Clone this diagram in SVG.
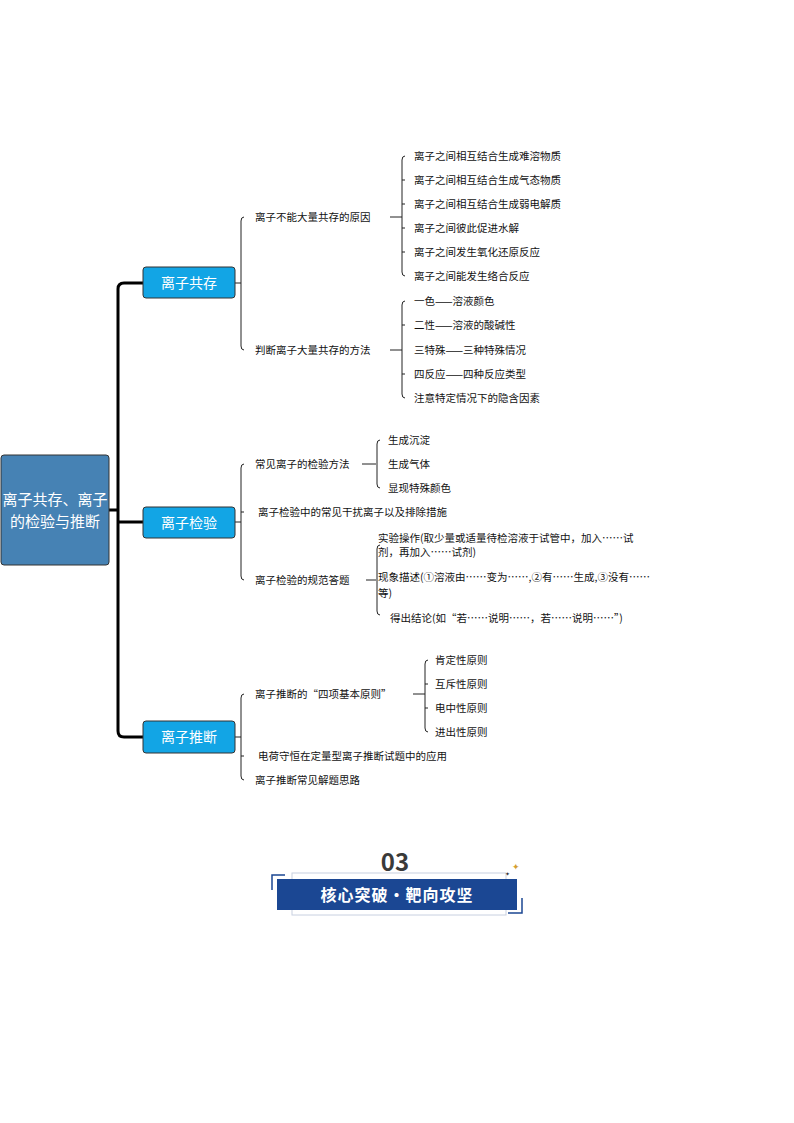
<svg xmlns="http://www.w3.org/2000/svg" width="794" height="1123" viewBox="0 0 794 1123">
<style>
text{font-family:"Noto Sans CJK SC","Liberation Sans",sans-serif;fill:#111}
.t{font-size:10.5px}
.b{font-size:14px;fill:#fff;text-anchor:middle}
.br{fill:#12a5e5;stroke:#333;stroke-width:1}
.c{fill:none;stroke:#222;stroke-width:1}
.k{fill:none;stroke:#000;stroke-width:3}
</style>
<rect width="794" height="1123" fill="#fff"/>
<g id="connectors">
<path class="k" d="M109 510H118M143 283H124Q118 283 118 289V731Q118 737 124 737H143M118 522H143"/>
<path class="c" d="M235 283H241M244 217Q241 217 241 221V346Q241 350 244 350"/>
<path class="c" d="M390 217H402M405 156Q402 156 402 160V272Q402 276 405 276M402 180h3M402 204h3M402 228h3M402 252h3"/>
<path class="c" d="M390 350H402M405 301Q402 301 402 305V394Q402 398 405 398M402 325h3M402 374h3"/>
<path class="c" d="M235 522H241M244 464Q241 464 241 468V576Q241 580 244 580M241 512h3"/>
<path class="c" d="M362 464H376M380 440Q377 440 377 444V484Q377 488 380 488"/>
<path class="c" d="M366 580H376M380 545Q377 545 377 549V611Q377 615 380 615"/>
<path class="c" d="M235 737H241M244 694Q241 694 241 698V776Q241 780 244 780M241 756h3"/>
<path class="c" d="M413 694H425M428 660Q425 660 425 664V728Q425 732 428 732M425 684h3M425 708h3"/>
</g>
<g id="root"><rect x="1" y="455" width="108" height="110" rx="3" fill="#4682b4" stroke="#333"/>
<text class="b" x="55" y="505" style="font-size:15px">离子共存、离子</text><text class="b" x="55" y="527" style="font-size:15px">的检验与推断</text></g>
<g id="n1"><rect class="br" x="143" y="267" width="92" height="31" rx="3"/><text class="b" x="189" y="288">离子共存</text></g>
<g id="n2"><rect class="br" x="143" y="507" width="92" height="31" rx="3"/><text class="b" x="189" y="528">离子检验</text></g>
<g id="n3"><rect class="br" x="143" y="721" width="92" height="32" rx="3"/><text class="b" x="189" y="742">离子推断</text></g>
<g id="leaves">
<text class="t" x="255" y="221">离子不能大量共存的原因</text>
<text class="t" x="414" y="160">离子之间相互结合生成难溶物质</text>
<text class="t" x="414" y="184">离子之间相互结合生成气态物质</text>
<text class="t" x="414" y="208">离子之间相互结合生成弱电解质</text>
<text class="t" x="414" y="232">离子之间彼此促进水解</text>
<text class="t" x="414" y="256">离子之间发生氧化还原反应</text>
<text class="t" x="414" y="280">离子之间能发生络合反应</text>
<text class="t" x="255" y="354">判断离子大量共存的方法</text>
<text class="t" x="414" y="305">一色——溶液颜色</text>
<text class="t" x="414" y="329">二性——溶液的酸碱性</text>
<text class="t" x="414" y="354">三特殊——三种特殊情况</text>
<text class="t" x="414" y="378">四反应——四种反应类型</text>
<text class="t" x="414" y="402">注意特定情况下的隐含因素</text>
<text class="t" x="255" y="468">常见离子的检验方法</text>
<text class="t" x="388" y="444">生成沉淀</text>
<text class="t" x="388" y="468">生成气体</text>
<text class="t" x="388" y="492">显现特殊颜色</text>
<text class="t" x="258" y="516">离子检验中的常见干扰离子以及排除措施</text>
<text class="t" x="255" y="584">离子检验的规范答题</text>
<text class="t" x="378" y="542">实验操作(取少量或适量待检溶液于试管中，加入……试</text>
<text class="t" x="378" y="556">剂，再加入……试剂)</text>
<text class="t" x="378" y="581">现象描述(①溶液由……变为……,②有……生成,③没有……</text>
<text class="t" x="378" y="597">等)</text>
<text class="t" x="390" y="622">得出结论(如“若……说明……，若……说明……”)</text>
<text class="t" x="255" y="698">离子推断的“四项基本原则”</text>
<text class="t" x="435" y="664">肯定性原则</text>
<text class="t" x="435" y="688">互斥性原则</text>
<text class="t" x="435" y="712">电中性原则</text>
<text class="t" x="435" y="736">进出性原则</text>
<text class="t" x="258" y="760">电荷守恒在定量型离子推断试题中的应用</text>
<text class="t" x="255" y="784">离子推断常见解题思路</text>
</g>
<g id="banner">
<text x="395" y="871" text-anchor="middle" style="font-size:24px;font-weight:bold;fill:#3a3a3a">03</text>
<rect x="292" y="873" width="214" height="42" fill="none" stroke="#c8d0e0"/>
<rect x="277" y="879" width="240" height="31" fill="#1b4793"/>
<text x="397" y="901" text-anchor="middle" style="font-size:16px;font-weight:bold;fill:#fff;letter-spacing:1px">核心突破・靶向攻坚</text>
<path d="M272 890V875H285M522 898V913H508" fill="none" stroke="#1b4793" stroke-width="1.5"/>
<text x="512" y="870" style="font-size:9px;fill:#d4a030">✦</text>
<text x="505" y="876" style="font-size:6px;fill:#333">✦</text>
</g>
</svg>
